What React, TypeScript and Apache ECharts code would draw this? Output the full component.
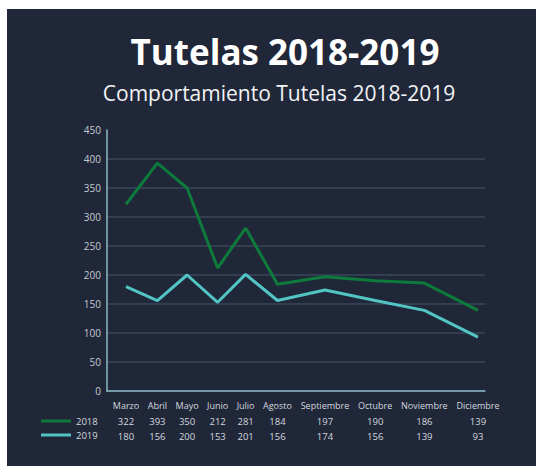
import React, { useEffect, useRef } from "react";
import * as echarts from "echarts";

const categories = ["Marzo", "Abril", "Mayo", "Junio", "Julio", "Agosto", "Septiembre", "Octubre", "Noviembre", "Diciembre"];
const series2018 = [322, 393, 350, 212, 281, 184, 197, 190, 186, 139];
const series2019 = [180, 156, 200, 153, 201, 156, 174, 156, 139, 93];
const seriesNames = ["2018", "2019"];
const yTicks = { min: 0, max: 450, interval: 50 };

const FONT = '"Open Sans", "DejaVu Sans", sans-serif';
const TABLE_FONT_SIZE = 9;
const COL_GAP = 8;

function columnCenters(): number[] {
  const canvas = document.createElement("canvas");
  const ctx = canvas.getContext("2d");
  let widths: number[];
  if (ctx) {
    ctx.font = `${TABLE_FONT_SIZE}px "Open Sans"`;
    widths = categories.map((c) => ctx.measureText(c).width);
  } else {
    widths = categories.map((c) => c.length * TABLE_FONT_SIZE * 0.55);
  }
  const pos: number[] = [];
  let acc = 0;
  widths.forEach((w, i) => {
    if (i > 0) acc += (widths[i - 1] + w) / 2 + COL_GAP;
    pos.push(acc);
  });
  return pos;
}

export default function App() {
  const ref = useRef<HTMLDivElement>(null);
  useEffect(() => {
    document.body.style.margin = "0";
    if (!ref.current) return;
    const chart = echarts.init(ref.current, undefined, { renderer: "svg" });
    const pos = columnCenters();
    const L = pos[pos.length - 1];
    const unit = L / 352;
    const nearest = (v: number) => {
      let best = 0;
      pos.forEach((p, i) => {
        if (Math.abs(p - v) < Math.abs(pos[best] - v)) best = i;
      });
      return best;
    };
    chart.setOption({
      animation: false,
      backgroundColor: "transparent",
      textStyle: { fontFamily: FONT },
      graphic: [
        {
          type: "text",
          x: 285,
          y: 51,
          style: {
            text: "Tutelas 2018-2019",
            font: `bold 35px ${FONT}`,
            fill: "#ffffff",
            align: "center",
            verticalAlign: "middle",
          },
        },
        {
          type: "text",
          x: 279,
          y: 93,
          style: {
            text: "Comportamiento Tutelas 2018-2019",
            font: `21px ${FONT}`,
            fill: "#f2f3f5",
            align: "center",
            verticalAlign: "middle",
          },
        },
      ],
      legend: {
        orient: "vertical",
        left: 41,
        top: 411,
        icon: "rect",
        itemWidth: 30,
        itemHeight: 3,
        itemGap: 4,
        padding: [5, 5, 5, 0],
        data: seriesNames,
        textStyle: { color: "#d5d8de", fontSize: 9.5, fontFamily: FONT },
      },
      grid: { left: 107, right: 51, top: 130, bottom: 75, containLabel: false },
      xAxis: {
        type: "value",
        min: -19 * unit,
        max: L + 7 * unit,
        splitLine: { show: false },
        axisTick: { show: false },
        axisLine: { show: true, onZero: false, lineStyle: { color: "#8cb8c8", width: 1.5 } },
        axisLabel: {
          customValues: pos,
          margin: 7,
          formatter: (v: number) => {
            const i = nearest(v);
            return `{c|${categories[i]}}\n{v|${series2018[i]}}\n{v|${series2019[i]}}`;
          },
          rich: {
            c: { color: "#d5d8de", fontSize: TABLE_FONT_SIZE, lineHeight: 15.5, fontFamily: FONT },
            v: { color: "#d5d8de", fontSize: 9.5, lineHeight: 15.5, fontFamily: FONT },
          },
        },
      },
      yAxis: {
        type: "value",
        min: yTicks.min,
        max: yTicks.max,
        interval: yTicks.interval,
        axisLine: { show: true, onZero: false, lineStyle: { color: "#8cb8c8", width: 1.5 } },
        axisTick: { show: false },
        axisLabel: { color: "#c5cad2", fontSize: 10, margin: 6, fontFamily: FONT },
        splitLine: { show: true, showMaxLine: false, lineStyle: { color: "#384858", width: 1.5 } },
      },
      series: [
        {
          name: seriesNames[0],
          type: "line",
          symbol: "none",
          data: pos.map((p, i) => [p, series2018[i]]),
          lineStyle: { color: "#0e7a3b", width: 3 },
          itemStyle: { color: "#0e7a3b" },
        },
        {
          name: seriesNames[1],
          type: "line",
          symbol: "none",
          data: pos.map((p, i) => [p, series2019[i]]),
          lineStyle: { color: "#52c4c4", width: 3 },
          itemStyle: { color: "#52c4c4" },
        },
      ],
    });
    return () => chart.dispose();
  }, []);
  return (
    <div style={{ position: "relative", width: 536, height: 466, background: "#ffffff" }}>
      <div style={{ position: "absolute", left: 7, top: 9, width: 529, height: 457, background: "#1f2739" }} />
      <div ref={ref} style={{ position: "absolute", left: 0, top: 0, width: 536, height: 466 }} />
    </div>
  );
}
